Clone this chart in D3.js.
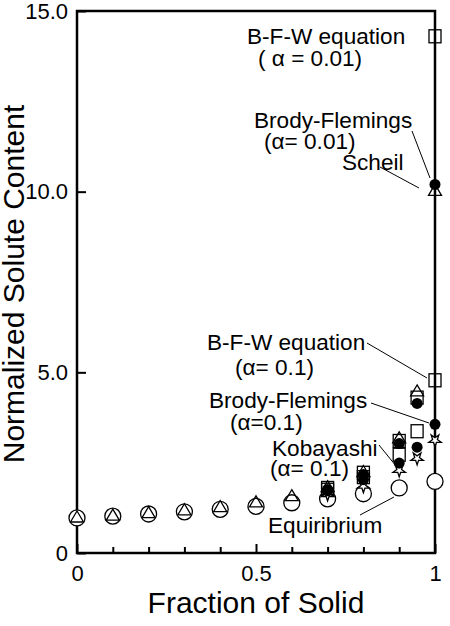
<!DOCTYPE html>
<html>
<head>
<meta charset="utf-8">
<script src="https://cdn.jsdelivr.net/npm/d3@7"></script>
<style>
  body { margin: 0; background: #fff; }
  svg text { font-family: "Liberation Sans", Arial, sans-serif; fill: #000; }
</style>
</head>
<body>
<div id="chart"></div>
<script>
// fraction of solid positions
var fsAll = [0, 0.1, 0.2, 0.3, 0.4, 0.5, 0.6, 0.7, 0.8, 0.9, 1.0];
var fsScheil = [0, 0.1, 0.2, 0.3, 0.4, 0.5, 0.6, 0.7, 0.8, 0.9, 0.95, 1.0];
var fsLate = [0.7, 0.8, 0.9, 0.95, 1.0];

// normalized solute content
var equilibrium = [0.97, 1.02, 1.08, 1.14, 1.21, 1.29, 1.39, 1.50, 1.64, 1.80, 1.98];
var scheil = [0.96, 1.01, 1.08, 1.16, 1.25, 1.38, 1.55, 1.80, 2.22, 3.15, 4.45, 10.0];
var bf001 = [1.76, 2.17, 3.03, 4.14, 10.2];
var bfw001 = [1.80, 2.22, 3.10, 4.30, 14.3];
var bf01 = [1.72, 2.03, 2.49, 2.93, 3.56];
var bfw01 = [1.75, 2.10, 2.72, 3.37, 4.78];
var kobayashi = [1.62, 1.85, 2.29, 2.62, 3.12];

var yTicks = [0, 5, 10, 15];
var yTickLabels = ["0", "5.0", "10.0", "15.0"];
var xMajor = [0, 0.5, 1];
var xMajorLabels = ["0", "0.5", "1"];
var xMinor = [0.1, 0.2, 0.3, 0.4, 0.6, 0.7, 0.8, 0.9];

var W = 450, H = 626;
var pL = 77, pR = 435, pT = 11, pB = 553;
var FONT = "Liberation Sans, Arial, sans-serif";

var svg = d3.select("#chart").append("svg")
  .attr("width", W)
  .attr("height", H);

var x = d3.scaleLinear().domain([0, 1]).range([pL, pR]);
var y = d3.scaleLinear().domain([0, 15]).range([pB, pT]);

/* axes */
svg.append("g")
  .attr("transform", `translate(${pL},0)`)
  .call(d3.axisLeft(y).tickValues(yTicks).tickSize(-9).tickPadding(9)
    .tickFormat((d, i) => yTickLabels[i]))
  .call(g => g.select(".domain").remove())
  .call(g => g.selectAll("line").attr("stroke", "#000").attr("stroke-width", 2))
  .call(g => g.selectAll("text").attr("font-size", 22).attr("fill", "#000")
    .style("font-family", FONT));

svg.append("g")
  .attr("transform", `translate(0,${pB})`)
  .call(d3.axisBottom(x).tickValues(xMinor).tickSize(-6).tickFormat(""))
  .call(g => g.select(".domain").remove())
  .call(g => g.selectAll("line").attr("stroke", "#000").attr("stroke-width", 2));

svg.append("g")
  .attr("transform", `translate(0,${pB})`)
  .call(d3.axisBottom(x).tickValues(xMajor).tickSize(-9).tickPadding(12)
    .tickFormat((d, i) => xMajorLabels[i]))
  .call(g => g.select(".domain").remove())
  .call(g => g.selectAll("line").attr("stroke", "#000").attr("stroke-width", 2))
  .call(g => g.selectAll("text").attr("font-size", 22).attr("fill", "#000")
    .style("font-family", FONT));

// frame
svg.append("rect")
  .attr("x", pL).attr("y", pT)
  .attr("width", pR - pL).attr("height", pB - pT)
  .attr("fill", "none").attr("stroke", "#000").attr("stroke-width", 2.5);

svg.append("text")
  .attr("x", (pL + pR) / 2).attr("y", 613)
  .attr("text-anchor", "middle").attr("font-size", 30)
  .text("Fraction of Solid");

svg.append("text")
  .attr("transform", `translate(24,${(pT + pB) / 2 + 2}) rotate(-90)`)
  .attr("text-anchor", "middle").attr("font-size", 30)
  .text("Normalized Solute Content");

/* leader lines */
var leaders = [
  [[380, 167], [419, 188]],
  [[412, 131], [430, 178]],
  [[367, 343], [427, 378]],
  [[371, 403], [429, 423]],
  [[379, 445], [396, 466]],
  [[360, 515], [394, 497]]
];
svg.append("g").selectAll("line").data(leaders).enter().append("line")
  .attr("x1", d => d[0][0]).attr("y1", d => d[0][1])
  .attr("x2", d => d[1][0]).attr("y2", d => d[1][1])
  .attr("stroke", "#000").attr("stroke-width", 1);

/* markers */
function pts(xs, ys) { return xs.map((d, i) => ({fs: d, v: ys[i]})); }

var triPath = "M0,-7.3L6.5,3.7L-6.5,3.7Z";
var starPath = d3.symbol().type(d3.symbolStar).size(48)();

var g = svg.append("g");

g.selectAll(".eq").data(pts(fsAll, equilibrium)).enter().append("circle")
  .attr("cx", d => x(d.fs)).attr("cy", d => y(d.v)).attr("r", 8)
  .attr("fill", "#fff").attr("stroke", "#000").attr("stroke-width", 1.3);

[bfw001, bfw01].forEach(function(s) {
  g.append("g").selectAll("rect").data(pts(fsLate, s)).enter().append("rect")
    .attr("x", d => x(d.fs) - 6).attr("y", d => y(d.v) - 6.5)
    .attr("width", 12).attr("height", 13)
    .attr("fill", "none").attr("stroke", "#000").attr("stroke-width", 1.3);
});

g.append("g").selectAll("path").data(pts(fsLate, kobayashi)).enter().append("path")
  .attr("d", starPath)
  .attr("transform", d => `translate(${x(d.fs)},${y(d.v)}) rotate(180)`)
  .attr("fill", "#fff").attr("stroke", "#000").attr("stroke-width", 1.3);

g.append("g").selectAll("path").data(pts(fsScheil, scheil)).enter().append("path")
  .attr("d", triPath)
  .attr("transform", d => `translate(${x(d.fs)},${y(d.v)})`)
  .attr("fill", "none").attr("stroke", "#000").attr("stroke-width", 1.3);

[bf001, bf01].forEach(function(s) {
  g.append("g").selectAll("circle").data(pts(fsLate, s)).enter().append("circle")
    .attr("cx", d => x(d.fs)).attr("cy", d => y(d.v)).attr("r", 5.5)
    .attr("fill", "#000");
});

/* annotations */
var notes = [
  {t: "B-F-W equation", x: 247, y: 44},
  {t: "( α = 0.01)", x: 258, y: 66},
  {t: "Brody-Flemings", x: 254, y: 128},
  {t: "(α= 0.01)", x: 264, y: 149},
  {t: "Scheil", x: 342, y: 170},
  {t: "B-F-W equation", x: 207, y: 350},
  {t: "(α= 0.1)", x: 235, y: 375},
  {t: "Brody-Flemings", x: 209, y: 408},
  {t: "(α=0.1)", x: 230, y: 430},
  {t: "Kobayashi", x: 272, y: 456},
  {t: "(α= 0.1)", x: 270, y: 476},
  {t: "Equiribrium", x: 268, y: 533}
];
svg.append("g").selectAll("text").data(notes).enter().append("text")
  .attr("x", d => d.x).attr("y", d => d.y)
  .attr("font-size", 22.6)
  .text(d => d.t);
</script>
</body>
</html>
